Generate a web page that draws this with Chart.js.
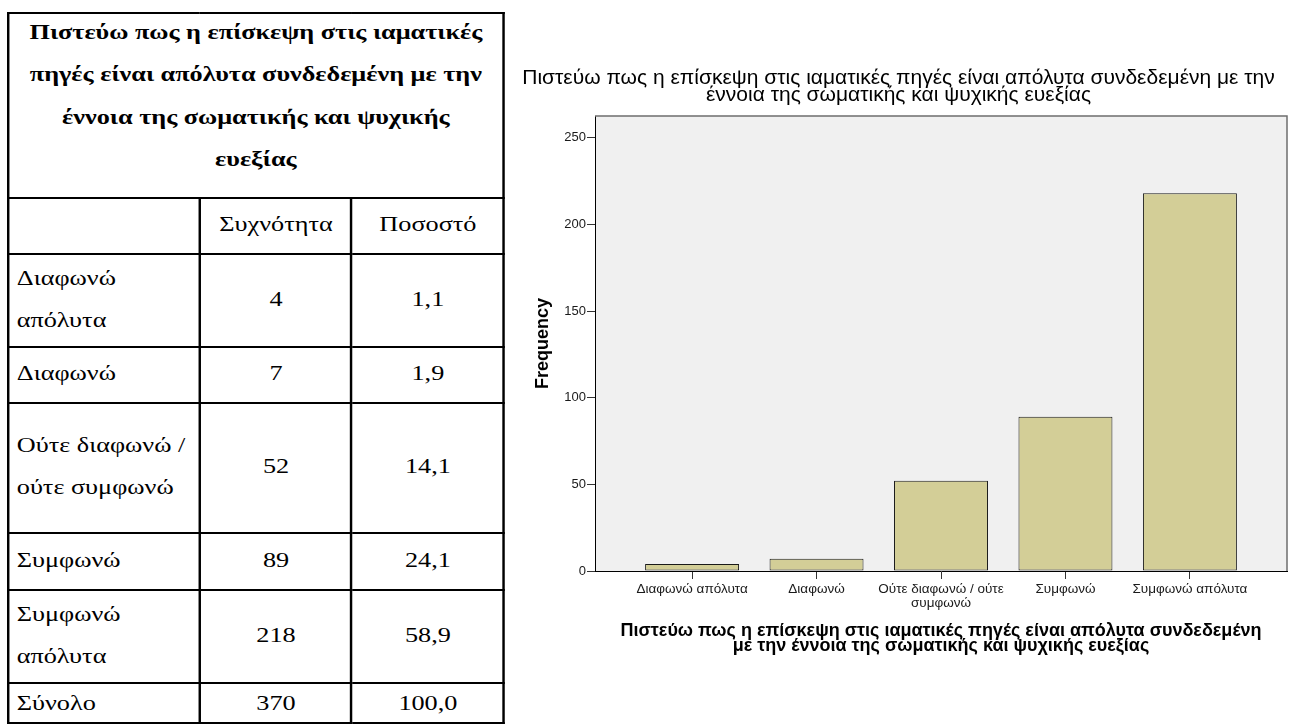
<!DOCTYPE html>
<html lang="el">
<head>
<meta charset="utf-8">
<title>Πιστεύω πως η επίσκεψη στις ιαματικές πηγές</title>
<script src="https://cdn.jsdelivr.net/npm/chart.js@4.4.1/dist/chart.umd.min.js"></script>
<style>
  html, body { margin: 0; padding: 0; background: #fff; }
  body { width: 1301px; height: 728px; position: relative; overflow: hidden; }
  /* the source table is a bit wider than its text height, so stretch it */
  #freqTable {
    position: absolute; left: 7px; top: 12px; width: 406px;
    transform: scaleX(1.22); transform-origin: 0 0;
    border-collapse: collapse; table-layout: fixed;
    font-family: "Liberation Serif", "Times New Roman", serif; font-size: 21.5px;
    color: #000;
  }
  #freqTable td {
    border: 2px solid #000; padding: 0 5px 4px 6px; line-height: 42px;
    vertical-align: middle; text-align: center; white-space: nowrap;
  }
  #freqTable td.lbl { text-align: left; }
  #freqTable th {
    border: 2px solid #000; font-weight: bold; line-height: 42.3px;
    padding: 0 3px; text-align: center; vertical-align: top; white-space: nowrap;
  }
  #freqTable th div { position: relative; top: -3px; }
  #freqTable tr.total td { padding-bottom: 0; line-height: 36px; }
  #chartBox { position: absolute; left: 510px; top: 60px; width: 780px; height: 600px; }
</style>
</head>
<body>
<table id="freqTable">
  <colgroup><col style="width:157px"><col style="width:124px"><col style="width:125px"></colgroup>
  <thead><tr style="height:185px"><th colspan="3"><div id="tblTitle"></div></th></tr></thead>
  <tbody id="tblBody"></tbody>
</table>
<div id="chartBox"><canvas id="freqChart"></canvas></div>
<script>
const titleLines = ['Πιστεύω πως η επίσκεψη στις ιαματικές', 'πηγές είναι απόλυτα συνδεδεμένη με την',
                    'έννοια της σωματικής και ψυχικής', 'ευεξίας'];
const categories = ['Διαφωνώ απόλυτα', 'Διαφωνώ', 'Ούτε διαφωνώ / ούτε συμφωνώ', 'Συμφωνώ', 'Συμφωνώ απόλυτα'];
const tableLabels = [['Διαφωνώ', 'απόλυτα'], ['Διαφωνώ'], ['Ούτε διαφωνώ /', 'ούτε συμφωνώ'], ['Συμφωνώ'], ['Συμφωνώ', 'απόλυτα']];
const frequencies = [4, 7, 52, 89, 218];
const percents = ['1,1', '1,9', '14,1', '24,1', '58,9'];
const totalFreq = 370;
const totalPct = '100,0';
const yTicks = [0, 50, 100, 150, 200, 250];
const tickLabels = ['Διαφωνώ απόλυτα', 'Διαφωνώ', ['Ούτε διαφωνώ / ούτε', 'συμφωνώ'], 'Συμφωνώ', 'Συμφωνώ απόλυτα'];
const chartTitle = ['Πιστεύω πως η επίσκεψη στις ιαματικές πηγές είναι απόλυτα συνδεδεμένη με την',
                    'έννοια της σωματικής και ψυχικής ευεξίας'];
const xTitle = ['Πιστεύω πως η επίσκεψη στις ιαματικές πηγές είναι απόλυτα συνδεδεμένη',
                'με την έννοια της σωματικής και ψυχικής ευεξίας'];

// table
document.getElementById('tblTitle').innerHTML = titleLines.join('<br>');
const rowHeights = [56, 93, 56, 130, 57, 93, 40];
let html = '<tr style="height:' + rowHeights[0] + 'px"><td></td><td>Συχνότητα</td><td>Ποσοστό</td></tr>';
tableLabels.forEach((lab, i) => {
  html += '<tr style="height:' + rowHeights[i + 1] + 'px"><td class="lbl">' + lab.join('<br>') + '</td><td>' +
          frequencies[i] + '</td><td>' + percents[i] + '</td></tr>';
});
html += '<tr class="total" style="height:' + rowHeights[6] + 'px"><td class="lbl">Σύνολο</td><td>' + totalFreq +
        '</td><td>' + totalPct + '</td></tr>';
document.getElementById('tblBody').innerHTML = html;

// chart
const plotFrame = {
  id: 'plotFrame',
  beforeDraw(chart) {
    const { ctx, chartArea: a } = chart;
    ctx.save();
    ctx.fillStyle = '#f0f0f0';
    ctx.fillRect(a.left, a.top, a.right - a.left, a.bottom - a.top);
    ctx.restore();
  },
  afterDraw(chart) {
    const { ctx, chartArea: a } = chart;
    ctx.save();
    ctx.strokeStyle = '#6e6e6e';
    ctx.lineWidth = 1.5;
    ctx.beginPath();
    ctx.moveTo(a.left, a.top);
    ctx.lineTo(a.right, a.top);
    ctx.lineTo(a.right, a.bottom);
    ctx.stroke();
    ctx.restore();
  }
};

const sans = '"Liberation Sans", Arial, sans-serif';

new Chart(document.getElementById('freqChart'), {
  type: 'bar',
  data: {
    datasets: [{
      label: 'Frequency',
      data: frequencies.map((v, i) => ({ x: i, y: v })),
      backgroundColor: 'rgb(211, 206, 151)',
      borderColor: '#1a1a1a',
      borderWidth: 1,
      borderSkipped: false,
      barPercentage: 0.755,
      categoryPercentage: 1
    }]
  },
  options: {
    responsive: true,
    maintainAspectRatio: false,
    animation: false,
    layout: { padding: { left: 0, right: 3, top: 0, bottom: 0 } },
    plugins: {
      legend: { display: false },
      tooltip: { enabled: false },
      title: {
        display: true,
        text: chartTitle,
        color: '#000',
        font: { family: sans, size: 21, weight: 'normal', lineHeight: 0.81 },
        padding: { top: 10, bottom: 12 }
      }
    },
    scales: {
      x: {
        type: 'linear',
        offset: false,
        min: -0.78,
        max: 4.78,
        afterFit(scale) { scale.height = 89; },
        afterBuildTicks(scale) { scale.ticks = categories.map((c, i) => ({ value: i })); },
        ticks: {
          autoSkip: false, maxRotation: 0, minRotation: 0,
          color: '#1a1a1a', font: { family: sans, size: 13.5, lineHeight: 1.0 }, padding: 4,
          callback: v => tickLabels[v]
        },
        grid: { offset: false, drawOnChartArea: false, drawTicks: true, tickLength: 8, color: '#333' },
        border: { display: true, color: '#000', width: 1 },
        title: {
          display: true,
          text: xTitle,
          color: '#000',
          font: { family: sans, size: 18, weight: 'bold', lineHeight: 0.85 },
          padding: { top: 0, bottom: 6 }
        }
      },
      y: {
        min: 0,
        max: 262.5,
        afterFit(scale) { scale.width = 85; },
        afterBuildTicks(scale) { scale.ticks = yTicks.map(v => ({ value: v })); },
        ticks: { color: '#1a1a1a', font: { family: sans, size: 13 }, padding: 1 },
        grid: { drawOnChartArea: false, drawTicks: true, tickLength: 8, color: '#333' },
        border: { display: true, color: '#000', width: 1 },
        title: {
          display: true,
          text: 'Frequency',
          color: '#000',
          font: { family: sans, size: 18, weight: 'bold' },
          padding: { top: 22, bottom: 0 }
        }
      }
    }
  },
  plugins: [plotFrame]
});
</script>
</body>
</html>
